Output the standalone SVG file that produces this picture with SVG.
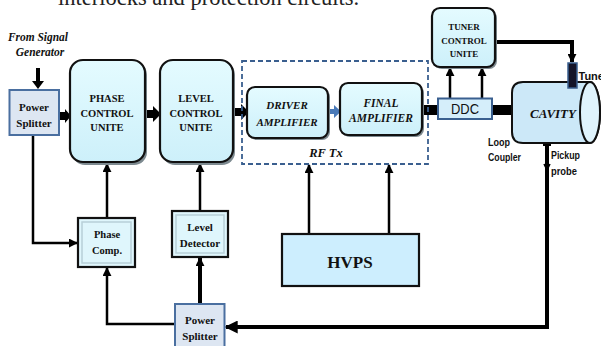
<svg xmlns="http://www.w3.org/2000/svg" width="601" height="346" viewBox="0 0 601 346">
<defs>
<style>
.tb{font-family:"Liberation Serif","Times New Roman",serif;font-weight:bold;fill:#111;text-anchor:middle}
.tbi{font-family:"Liberation Serif","Times New Roman",serif;font-weight:bold;font-style:italic;fill:#111;text-anchor:middle}
.sn{font-family:"Liberation Sans Narrow","Liberation Sans",Arial,sans-serif;font-weight:bold;fill:#111}
.rbox{fill:url(#cy);stroke:#111;stroke-width:2.2}
.shadow{fill:#7d8a90}
.ln{fill:none;stroke:#000;stroke-width:2.5}
.lnt{fill:none;stroke:#000;stroke-width:4}
</style>
<linearGradient id="cy" x1="0" y1="0" x2="0" y2="1">
<stop offset="0" stop-color="#e4fbff"/>
<stop offset="1" stop-color="#cdf0fa"/>
</linearGradient>
<marker id="ah" viewBox="0 0 10 10" refX="9" refY="5" markerWidth="9" markerHeight="9" markerUnits="userSpaceOnUse" orient="auto">
<path d="M0,0 L10,5 L0,10 Z" fill="#000"/>
</marker>
<marker id="ahb" viewBox="0 0 10 10" refX="9" refY="5" markerWidth="13" markerHeight="13" markerUnits="userSpaceOnUse" orient="auto">
<path d="M0,0 L10,5 L0,10 Z" fill="#000"/>
</marker>
</defs>
<rect width="601" height="346" fill="#fff"/>

<text x="58" y="5" style="font-family:'Liberation Serif','Times New Roman',serif;font-size:22.5px;fill:#222">interlocks and protection circuits.</text>

<g id="connectors">
<!-- signal generator arrow -->
<path d="M36,68 H40 V81 H44 L38,89 L32,81 H36 Z" fill="#000"/>
<!-- power splitter -> phase control -->
<path d="M59,112 H65 V109 L71,116 L65,123 V120 H59 Z" fill="#000"/>
<!-- phase -> level -->
<path d="M145,110 H153 V106 L161,114 L153,122 V118 H145 Z" fill="#000"/>
<!-- level -> driver -->
<path d="M233,108 H241 V104 L249,112 L241,120 V116 H233 Z" fill="#000"/>
<!-- driver -> final (blue) -->
<path d="M328,109 H334 V105 L341,111.5 L334,118 V114 H328 Z" fill="#4a7ab8"/>
<!-- final -> DDC -->
<rect x="422" y="105" width="17" height="10" fill="#000"/>
<!-- DDC -> cavity loop coupler -->
<path d="M492,105 H517 V115 H492 Z" fill="#000"/>
<path d="M515,105 Q526,106 525,114 Q524,121 518,121" fill="none" stroke="#000" stroke-width="3.5"/>
<path d="M513,121 L520,116 L520,126 Z" fill="#000"/>
<!-- DDC -> tuner control (two arrows) -->
<line x1="450" y1="98" x2="450" y2="68" class="ln" marker-end="url(#ah)"/>
<line x1="482" y1="98" x2="482" y2="68" class="ln" marker-end="url(#ah)"/>
<!-- tuner control -> tuner -->
<path d="M495,42 H572 V62" class="lnt" stroke-width="3.5" marker-end="url(#ah)"/>
<!-- HVPS -> RF Tx -->
<line x1="309" y1="234" x2="309" y2="165" class="ln" marker-end="url(#ah)"/>
<line x1="389" y1="234" x2="389" y2="165" class="ln" marker-end="url(#ah)"/>
<!-- phase comp -> phase control -->
<line x1="107" y1="218" x2="107" y2="164" class="ln" stroke-width="3" marker-end="url(#ah)"/>
<!-- level detector -> level control -->
<line x1="200" y1="211" x2="200" y2="164" class="ln" stroke-width="3" marker-end="url(#ah)"/>
<!-- power splitter -> phase comp -->
<path d="M33,135 V243 H77" class="ln" stroke-width="3" marker-end="url(#ah)"/>
<!-- bottom power splitter -> phase comp -->
<path d="M175,324 H107 V268" class="ln" stroke-width="3" marker-end="url(#ah)"/>
<!-- bottom power splitter -> level detector -->
<line x1="200" y1="304" x2="200" y2="258" class="lnt" marker-end="url(#ah)"/>
<!-- pickup probe -> bottom power splitter -->
<path d="M547,144 V327 H226" class="lnt" stroke-width="4.5" marker-end="url(#ahb)"/>
<path d="M543,142 Q547,139 551,142 L551,146 L543,146 Z" fill="#000"/>
<path d="M544,164 L547,170 L550,164" fill="none" stroke="#000" stroke-width="1.5"/>
</g>

<g id="source-label">
<text x="38" y="41" class="tbi" style="font-size:11.5px" textLength="60" lengthAdjust="spacingAndGlyphs">From Signal</text>
<text x="40" y="56" class="tbi" style="font-size:11.5px">Generator</text>
</g>

<g id="power-splitter-top">
<rect x="9.5" y="90" width="49.5" height="45" fill="#dde6f2" stroke="#4a6fa0" stroke-width="2"/>
<text x="34" y="111" class="tb" style="font-size:11px">Power</text>
<text x="34" y="127" class="tb" style="font-size:11px">Splitter</text>
</g>

<g id="phase-control">
<rect x="72" y="62" width="75" height="103" rx="13" class="shadow"/>
<rect x="70" y="60" width="75" height="102" rx="13" class="rbox"/>
<text x="107" y="102" class="tb" style="font-size:10.5px">PHASE</text>
<text x="107" y="117" class="tb" style="font-size:10.5px">CONTROL</text>
<text x="107" y="131" class="tb" style="font-size:10.5px">UNITE</text>
</g>

<g id="level-control">
<rect x="162" y="62" width="73" height="103" rx="13" class="shadow"/>
<rect x="160" y="60" width="73" height="102" rx="13" class="rbox"/>
<text x="196" y="102" class="tb" style="font-size:10.5px">LEVEL</text>
<text x="196" y="117" class="tb" style="font-size:10.5px">CONTROL</text>
<text x="196" y="131" class="tb" style="font-size:10.5px">UNITE</text>
</g>

<g id="rf-tx">
<rect x="242" y="61" width="186" height="103" fill="none" stroke="#3a5f8f" stroke-width="1.8" stroke-dasharray="5,3"/>
<text x="326" y="157" class="tbi" style="font-size:12.5px">RF Tx</text>
</g>

<g id="driver-amplifier">
<rect x="249" y="89" width="81" height="51" rx="8" class="shadow"/>
<rect x="247" y="87" width="81" height="51" rx="8" class="rbox"/>
<text x="287" y="109" class="tbi" style="font-size:11px">DRIVER</text>
<text x="287" y="126" class="tbi" style="font-size:11px">AMPLIFIER</text>
</g>

<g id="final-amplifier">
<rect x="342" y="85" width="82" height="52" rx="8" class="shadow"/>
<rect x="340" y="83" width="82" height="52" rx="8" class="rbox"/>
<text x="381" y="107" class="tbi" style="font-size:11.5px">FINAL</text>
<text x="381" y="122" class="tbi" style="font-size:11.5px">AMPLIFIER</text>
</g>

<g id="ddc">
<rect x="438" y="98.5" width="54" height="20.5" fill="#d5eefa" stroke="#3a5f8f" stroke-width="2"/>
<text x="465" y="114" style="font-family:'Liberation Sans',Arial,sans-serif;font-size:14px;fill:#111;text-anchor:middle" textLength="28" lengthAdjust="spacingAndGlyphs">DDC</text>
</g>

<g id="tuner-control">
<rect x="434" y="10" width="63" height="59" rx="8" class="shadow"/>
<rect x="432" y="8" width="63" height="59" rx="8" class="rbox"/>
<text x="464" y="30" class="tb" style="font-size:9px">TUNER</text>
<text x="464" y="44" class="tb" style="font-size:9px">CONTROL</text>
<text x="464" y="57" class="tb" style="font-size:9px">UNITE</text>
</g>

<g id="cavity">
<path d="M523,82 H590 A10,30.5 0 0 1 590,143 H523 Q512,143 512,132 V93 Q512,82 523,82 Z" fill="#cce8f8" stroke="#111" stroke-width="2"/>
<ellipse cx="590" cy="112.5" rx="10" ry="30.5" fill="#dff3fc" stroke="#111" stroke-width="2"/>
<text x="553" y="118" class="tbi" style="font-size:13px">CAVITY</text>
</g>

<g id="tuner">
<rect x="568" y="63" width="9" height="25" fill="#141428" stroke="#3a5f8f" stroke-width="1.5"/>
<text x="578.5" y="80" class="sn" style="font-size:11px">Tuner</text>
</g>

<g id="loop-coupler-label">
<text x="488" y="146" class="sn" style="font-size:11px" textLength="22" lengthAdjust="spacingAndGlyphs">Loop</text>
<text x="488" y="161" class="sn" style="font-size:11px" textLength="33" lengthAdjust="spacingAndGlyphs">Coupler</text>
</g>

<g id="pickup-label">
<text x="551" y="159" class="sn" style="font-size:11px" textLength="29" lengthAdjust="spacingAndGlyphs">Pickup</text>
<text x="551" y="175" class="sn" style="font-size:11px" textLength="26" lengthAdjust="spacingAndGlyphs">probe</text>
</g>

<g id="phase-comp">
<rect x="78" y="218" width="57" height="49" fill="#dff6fc" stroke="#111" stroke-width="2.2"/>
<rect x="82" y="222" width="49" height="41" fill="none" stroke="#b8cfd8" stroke-width="1.5"/>
<text x="107" y="238" class="tb" style="font-size:10.5px">Phase</text>
<text x="107" y="254" class="tb" style="font-size:10.5px">Comp.</text>
</g>

<g id="level-detector">
<rect x="172" y="211" width="56" height="46" fill="#dff6fc" stroke="#111" stroke-width="2.2"/>
<rect x="176" y="215" width="48" height="38" fill="none" stroke="#b8cfd8" stroke-width="1.5"/>
<text x="200" y="231" class="tb" style="font-size:11px">Level</text>
<text x="200" y="247" class="tb" style="font-size:11px">Detector</text>
</g>

<g id="hvps">
<rect x="282" y="234" width="137" height="52" fill="#cdeefe" stroke="#111" stroke-width="2.2"/>
<text x="350" y="268" class="tb" style="font-size:17px">HVPS</text>
</g>

<g id="power-splitter-bottom">
<rect x="175" y="304" width="49.5" height="44" fill="#dde6f2" stroke="#4a6fa0" stroke-width="2"/>
<text x="200" y="324" class="tb" style="font-size:11px">Power</text>
<text x="200" y="340" class="tb" style="font-size:11px">Splitter</text>
</g>
</svg>
